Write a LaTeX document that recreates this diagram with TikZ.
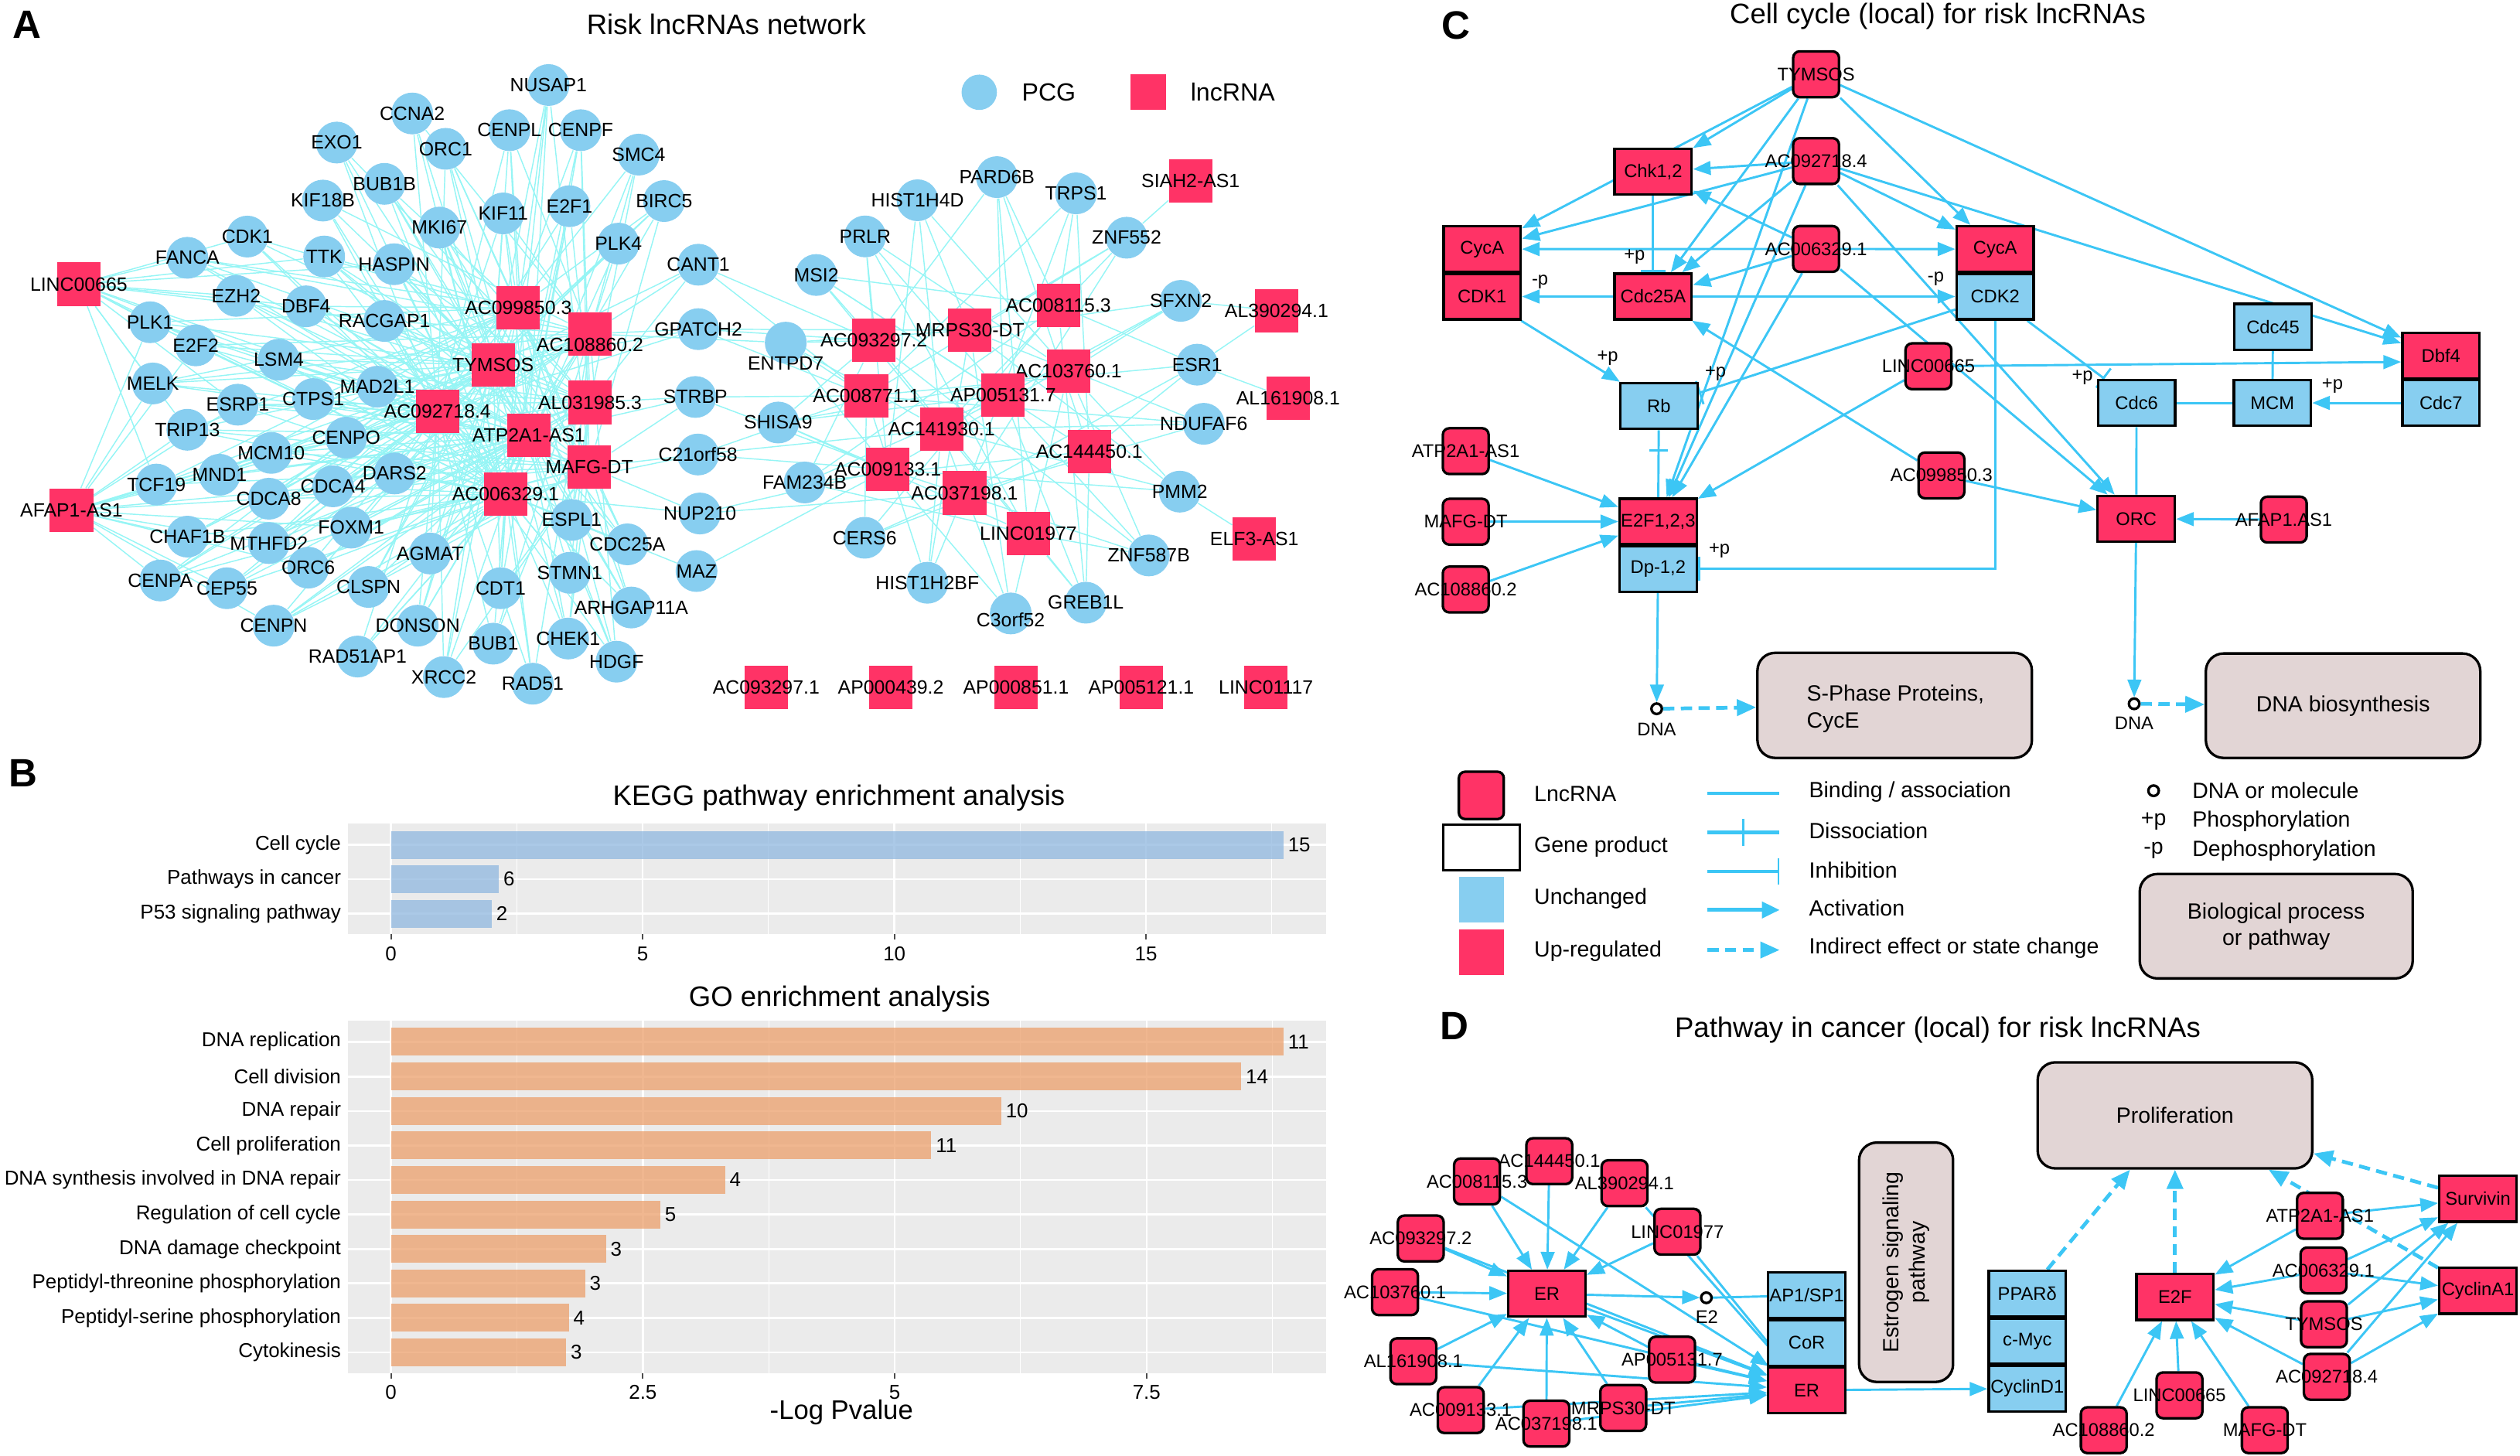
\documentclass[tikz,border=0pt]{standalone}
\usepackage{fontspec}
\setmainfont{Liberation Sans}
\usetikzlibrary{arrows.meta,calc}
\pgfdeclarelayer{bg}
\pgfsetlayers{bg,main}
\definecolor{lncred}{RGB}{255,51,102}
\definecolor{pcgblue}{RGB}{135,206,240}
\definecolor{acol}{RGB}{150,245,245}
\definecolor{ccol}{RGB}{60,198,245}
\definecolor{procfill}{RGB}{226,213,213}
\definecolor{keggbar}{RGB}{143,183,223}
\definecolor{gobar}{RGB}{236,159,108}
\definecolor{panelbg}{RGB}{235,235,235}
\newcommand\fnA{\fontsize{6.8}{7.5}\selectfont}
\newcommand\fnB{\fontsize{7.1}{8}\selectfont}
\newcommand\fnC{\fontsize{6.5}{7}\selectfont}
\newcommand\fnL{\fontsize{7.8}{9.4}\selectfont}
\newcommand\fnT{\fontsize{10}{12}\selectfont}
\newcommand\fnG{\fontsize{8.8}{10}\selectfont}
\newcommand\fnP{\fontsize{14}{16}\selectfont\bfseries}
\tikzset{
  pcg/.style={circle, fill=pcgblue, minimum size=0.52cm, inner sep=0pt},
  pa/.style={pcg, label={[font=\fnA, inner sep=0pt]center:#1}},
  lsq/.style={rectangle, fill=lncred, minimum size=0.54cm, inner sep=0pt},
  la/.style={lsq, label={[font=\fnA, inner sep=0pt]center:#1}},
  ae/.style={draw=acol, line width=0.4pt},
  lc/.style={rectangle, rounded corners=0.08cm, draw=black, line width=0.9pt, fill=lncred, minimum width=0.57cm, minimum height=0.57cm, inner sep=0pt, label={[font=\fnC, inner sep=0pt]center:#1}},
  gbox/.style={rectangle, draw=black, line width=0.9pt, minimum width=0.96cm, minimum height=0.57cm, inner sep=0pt, font=\fnC},
  gr/.style={gbox, fill=lncred},
  gb/.style={gbox, fill=pcgblue},
  proc/.style={rectangle, rounded corners=0.22cm, draw=black, line width=0.9pt, fill=procfill, inner sep=0pt, font=\fnL, align=center},
  dna/.style={circle, draw=black, line width=0.9pt, fill=white, minimum size=0.13cm, inner sep=0pt},
  cl/.style={draw=ccol, line width=0.8pt},
  act/.style={cl, -{Triangle[length=0.22cm, width=0.17cm]}},
  inh/.style={cl, -{Bar[width=0.3cm]}},
  ind/.style={cl, line width=1.3pt, dash pattern=on 0.14cm off 0.08cm, -{Triangle[length=0.24cm, width=0.2cm]}},
  pl/.style={font=\fnC, inner sep=0pt},
  txB/.style={font=\fnB, inner sep=0pt},
  txL/.style={font=\fnL, inner sep=0pt, anchor=west},
}
\begin{document}
\begin{tikzpicture}[x=0.02cm,y=-0.02cm]
\useasboundingbox (0,0) rectangle (1568,905.5);

% ================= PANEL A =================
\node[font=\fnP, inner sep=0pt] (lblA) at (16.9,15.2) {A};
\node[font=\fnT, inner sep=0pt] (titA) at (452,15) {Risk lncRNAs network};
\node[circle, fill=pcgblue, minimum size=0.44cm, inner sep=0pt] (legPCG) at (609.3,57.4) {};
\node[font=\fnG, inner sep=0pt, anchor=west] (legPCGt) at (635.5,57.4) {PCG};
\node[rectangle, fill=lncred, minimum size=0.44cm, inner sep=0pt] (legLNC) at (714.3,57.4) {};
\node[font=\fnG, inner sep=0pt, anchor=west] (legLNCt) at (740.5,57.4) {lncRNA};

% left PCGs
\node[pa=NUSAP1] (NUSAP1) at (341.3,52.9) {};
\node[pa=CCNA2] (CCNA2) at (256.5,70.6) {};
\node[pa=CENPF] (CENPF) at (361.3,81) {};
\node[pa=CENPL] (CENPL) at (317,81) {};
\node[pa=EXO1] (EXO1) at (209.5,88.7) {};
\node[pa=ORC1] (ORC1) at (277.3,92.6) {};
\node[pa=SMC4] (SMC4) at (397.4,96.2) {};
\node[pa=BUB1B] (BUB1B) at (239.2,114.4) {};
\node[pa=KIF18B] (KIF18B) at (200.9,124.8) {};
\node[pa=MKI67] (MKI67) at (273.4,141.6) {};
\node[pa=KIF11] (KIF11) at (313.1,132.8) {};
\node[pa=E2F1] (E2F1) at (354.3,128.3) {};
\node[pa=BIRC5] (BIRC5) at (413.2,125.1) {};
\node[pa=CDK1] (CDK1) at (153.9,147.2) {};
\node[pa=TTK] (TTK) at (201.7,159.6) {};
\node[pa=PLK4] (PLK4) at (384.8,151.6) {};
\node[pa=HASPIN] (HASPIN) at (245.2,164.4) {};
\node[pa=FANCA] (FANCA) at (116.6,160.4) {};
\node[pa=EZH2] (EZH2) at (146.9,184.1) {};
\node[pa=DBF4] (DBF4) at (190.4,190.6) {};
\node[pa=RACGAP1] (RACGAP1) at (239.2,199.7) {};
\node[pa=PLK1] (PLK1) at (93.4,200.5) {};
\node[pa=E2F2] (E2F2) at (121.8,214.9) {};
\node[pa=LSM4] (LSM4) at (173.5,223.8) {};
\node[pa=MELK] (MELK) at (95.1,238.6) {};
\node[pa=ESRP1] (ESRP1) at (147.9,251.8) {};
\node[pa=CTPS1] (CTPS1) at (194.9,248.3) {};
\node[pa=MAD2L1] (MAD2L1) at (234.8,240.6) {};
\node[pa=TRIP13] (TRIP13) at (116.6,267.4) {};
\node[pa=CENPO] (CENPO) at (215.4,272.3) {};
\node[pa=MCM10] (MCM10) at (168.8,281.8) {};
\node[pa=MND1] (MND1) at (136.6,295.4) {};
\node[pa=DARS2] (DARS2) at (245.5,294.6) {};
\node[pa=TCF19] (TCF19) at (97.3,301.5) {};
\node[pa=CDCA4] (CDCA4) at (207.2,302.6) {};
\node[pa=CDCA8] (CDCA8) at (167.3,310.3) {};
\node[pa=CHAF1B] (CHAF1B) at (116.6,333.9) {};
\node[pa=FOXM1] (FOXM1) at (218.5,328.3) {};
\node[pa=MTHFD2] (MTHFD2) at (167.3,337.9) {};
\node[pa=ORC6] (ORC6) at (191.8,353.2) {};
\node[pa=CENPA] (CENPA) at (99.7,361.2) {};
\node[pa=CEP55] (CEP55) at (141.2,366) {};
\node[pa=CLSPN] (CLSPN) at (229.3,365.2) {};
\node[pa=AGMAT] (AGMAT) at (267.6,344.4) {};
\node[pa=CENPN] (CENPN) at (170.3,389.3) {};
\node[pa=DONSON] (DONSON) at (259.9,389.3) {};
\node[pa=RAD51AP1] (RAD51AP1) at (222.5,408.5) {};
\node[pa=XRCC2] (XRCC2) at (276.2,421.3) {};
\node[pa=BUB1] (BUB1) at (306.9,400.5) {};
\node[pa=CDT1] (CDT1) at (311.5,366) {};
\node[pa=RAD51] (RAD51) at (331.5,425.4) {};
\node[pa=CHEK1] (CHEK1) at (353.5,397.3) {};
\node[pa=HDGF] (HDGF) at (383.6,411.7) {};
\node[pa=STMN1] (STMN1) at (354.5,356.4) {};
\node[pa=ARHGAP11A] (ARHGAP11A) at (392.8,378) {};
\node[pa=ESPL1] (ESPL1) at (355.7,323.5) {};
\node[pa=CDC25A] (CDC25A) at (390.4,338.7) {};
% middle PCGs
\node[pa=CANT1] (CANT1) at (434.5,164.7) {};
\node[pa=GPATCH2] (GPATCH2) at (434.5,204.8) {};
\node[pa=STRBP] (STRBP) at (432.7,247) {};
\node[pa=C21orf58] (C21orf58) at (434.3,282.8) {};
\node[pa=NUP210] (NUP210) at (435.5,319.5) {};
\node[pa=MAZ] (MAZ) at (433.4,355.3) {};
\node[pcg, label={[font=\fnA, inner sep=0pt, yshift=-0.26cm]center:ENTPD7}] (ENTPD7) at (488.9,213.2) {};
% right PCGs
\node[pa=PARD6B] (PARD6B) at (620.3,110.2) {};
\node[pa=HIST1H4D] (HIST1H4D) at (570.9,124.6) {};
\node[pa=TRPS1] (TRPS1) at (669.5,120.3) {};
\node[pa=PRLR] (PRLR) at (538.3,147.1) {};
\node[pa=ZNF552] (ZNF552) at (701,147.9) {};
\node[pa=MSI2] (MSI2) at (507.9,171.1) {};
\node[pa=SFXN2] (SFXN2) at (734.7,187.2) {};
\node[pa=ESR1] (ESR1) at (744.9,226.9) {};
\node[pa=SHISA9] (SHISA9) at (484.2,262.9) {};
\node[pa=NDUFAF6] (NDUFAF6) at (749,263.7) {};
\node[pa=FAM234B] (FAM234B) at (500.7,300.2) {};
\node[pa=PMM2] (PMM2) at (734.1,305.9) {};
\node[pa=CERS6] (CERS6) at (538,334.6) {};
\node[pa=ZNF587B] (ZNF587B) at (714.8,345.6) {};
\node[pa=HIST1H2BF] (HIST1H2BF) at (577,362.6) {};
\node[pa=GREB1L] (GREB1L) at (675.6,375) {};
\node[pcg, label={[font=\fnA, inner sep=0pt, yshift=-0.08cm]center:C3orf52}] (C3orf52) at (628.9,381.7) {};
% left lncRNAs
\node[la=LINC00665] (L665) at (49,176.8) {};
\node[la=AC099850.3] (H850) at (322.5,191.5) {};
\node[lsq, label={[font=\fnA, inner sep=0pt, yshift=-0.14cm]center:AC108860.2}] (H860) at (367.1,207.7) {};
\node[la=TYMSOS] (TYM) at (306.8,227) {};
\node[la=AC092718.4] (H718) at (272.2,255.8) {};
\node[la=AL031985.3] (H985) at (367.1,250.4) {};
\node[la=ATP2A1-AS1] (ATP) at (329,270.7) {};
\node[la=MAFG-DT] (MAF) at (366.7,290.6) {};
\node[la=AC006329.1] (H329) at (314.6,307.3) {};
\node[la=AFAP1-AS1] (AFA) at (44.5,317.6) {};
% right lncRNAs
\node[la=SIAH2-AS1] (SIA) at (740.8,112.4) {};
\node[la=AL390294.1] (R294) at (794.3,193.3) {};
\node[la=AC008115.3] (R115) at (658.5,190.2) {};
\node[la=MRPS30-DT] (MRP) at (603.5,205.5) {};
\node[la=AC093297.2] (R2972) at (543.8,211.9) {};
\node[la=AC103760.1] (R760) at (664.8,231.1) {};
\node[la=AL161908.1] (R908) at (801.5,247.9) {};
\node[la=AC008771.1] (R771) at (539.1,246.3) {};
\node[la=AP005131.7] (R1317) at (624.2,246) {};
\node[la=AC141930.1] (R930) at (585.8,267.2) {};
\node[la=AC144450.1] (R450) at (677.8,280.8) {};
\node[la=AC009133.1] (R133) at (552.4,292.1) {};
\node[la=AC037198.1] (R198) at (600.2,306.7) {};
\node[la=LINC01977] (R977) at (639.9,332) {};
\node[la=ELF3-AS1] (ELF) at (780.5,335.4) {};
% isolated lncRNAs
\node[la=AC093297.1] (I1) at (476.7,427.9) {};
\node[la=AP000439.2] (I2) at (554.3,427.9) {};
\node[la=AP000851.1] (I3) at (632.2,427.9) {};
\node[la=AP005121.1] (I4) at (710.1,427.9) {};
\node[la=LINC01117] (I5) at (787.7,427.9) {};

\begin{pgfonlayer}{bg}
\foreach \nm [count=\i] in {NUSAP1,CCNA2,CENPF,CENPL,EXO1,ORC1,SMC4,BUB1B,KIF18B,MKI67,KIF11,E2F1,BIRC5,CDK1,TTK,PLK4,HASPIN,FANCA,EZH2,DBF4,RACGAP1,PLK1,E2F2,LSM4,MELK,ESRP1,CTPS1,MAD2L1,TRIP13,CENPO,MCM10,MND1,DARS2,TCF19,CDCA4,CDCA8,CHAF1B,FOXM1,MTHFD2,ORC6,CENPA,CEP55,CLSPN,AGMAT,CENPN,DONSON,RAD51AP1,XRCC2,BUB1,CDT1,RAD51,CHEK1,HDGF,STMN1,ARHGAP11A,ESPL1,CDC25A} {
  \foreach \hb [count=\j] in {TYM,H718,H329,ATP,H850,H860,H985,MAF} {
    \pgfmathtruncatemacro\myr{mod(\i*3+\j*5,7)}
    \pgfmathtruncatemacro\mylim{\j<5 ? 5 : 3}
    \ifnum\myr<\mylim\relax \draw[ae] (\nm) -- (\hb); \fi
  }
}
\foreach \nm [count=\i] in {PARD6B,HIST1H4D,TRPS1,PRLR,ZNF552,MSI2,SFXN2,ESR1,SHISA9,NDUFAF6,FAM234B,PMM2,CERS6,ZNF587B,HIST1H2BF,GREB1L,C3orf52} {
  \foreach \hb [count=\j] in {R2972,MRP,R115,R760,R771,R1317,R930,R450,R133,R198,R977} {
    \pgfmathtruncatemacro\myr{mod(\i*2+\j*3,5)}
    \ifnum\myr<2\relax \draw[ae] (\nm) -- (\hb); \fi
  }
}
\foreach \t in {FANCA,CDK1,TTK,EZH2,DBF4,PLK1,E2F2,MELK,TRIP13,LSM4,HASPIN,ESRP1,CTPS1,RACGAP1,MAD2L1,TCF19} \draw[ae] (L665) -- (\t);
\foreach \t in {MELK,TCF19,MND1,CDCA8,CHAF1B,MTHFD2,CENPA,CEP55,CENPN,TRIP13,CDCA4,ORC6,E2F2,PLK1,MCM10,CENPO,FOXM1,ESRP1} \draw[ae] (AFA) -- (\t);
\foreach \t in {H860,H985,TYM,R2972,R771} \draw[ae] (CANT1) -- (\t);
\foreach \t in {H860,TYM,H718,R771,R2972,MRP} \draw[ae] (GPATCH2) -- (\t);
\foreach \t in {R2972,R771,MRP,R133,R930,H860} \draw[ae] (ENTPD7) -- (\t);
\foreach \t in {H985,MAF,ATP,R771,R133} \draw[ae] (STRBP) -- (\t);
\foreach \t in {MAF,H329,R133,R930,R771} \draw[ae] (C21orf58) -- (\t);
\foreach \t in {H329,MAF,R133,R198} \draw[ae] (NUP210) -- (\t);
\foreach \t in {H329,R133} \draw[ae] (MAZ) -- (\t);
\draw[ae] (SIA) -- (ZNF552);
\draw[ae] (R294) -- (ESR1);
\draw[ae] (R294) -- (SFXN2);
\draw[ae] (R908) -- (ESR1);
\draw[ae] (ELF) -- (PMM2);
\end{pgfonlayer}

% ================= PANEL B =================
\node[font=\fnP, inner sep=0pt] (lblB) at (14.6,481) {B};
\node[font=\fnT, inner sep=0pt] (titK) at (522,496.5) {KEGG pathway enrichment analysis};
\fill[panelbg] (216.5,512.5) rectangle (825,581);
\foreach \x in {321.6,478.2,634.8,791.4} \draw[white,line width=0.3pt] (\x,512.5) -- (\x,581);
\foreach \x in {243.3,399.9,556.5,713.1} \draw[white,line width=0.7pt] (\x,512.5) -- (\x,581);
\foreach \y in {525.7,547,568.5} \draw[white,line width=0.7pt] (216.5,\y) -- (825,\y);
\foreach \y/\e/\c/\t [count=\i] in {525.7/798.6/15/Cell cycle,547/310.4/6/Pathways in cancer,568.5/306/2/P53 signaling pathway} {
  \fill[keggbar, fill opacity=0.75] (243.3,\y-8.65) rectangle (\e,\y+8.65);
  \node[txB, anchor=west] (kv\i) at (\e+2.5,\y) {\c};
  \node[txB, anchor=east] (kc\i) at (212.5,\y) {\t};
}
\foreach \x/\t [count=\i] in {243.3/0,399.9/5,556.5/10,713.1/15} {
  \draw[gray!60!black,line width=0.5pt] (\x,581) -- (\x,584.5);
  \node[txB] (kt\i) at (\x,593.5) {\t};
}
\node[font=\fnT, inner sep=0pt] (titG) at (522.4,621.6) {GO enrichment analysis};
\fill[panelbg] (216.5,635.2) rectangle (825,854.5);
\foreach \x in {321.7,478.3,635,791.8} \draw[white,line width=0.3pt] (\x,635.2) -- (\x,854.5);
\foreach \x in {243.3,400,556.7,713.4} \draw[white,line width=0.7pt] (\x,635.2) -- (\x,854.5);
\foreach \y in {648.2,669.9,691.4,712.7,734.2,755.7,777.2,798.5,820,841.5} \draw[white,line width=0.7pt] (216.5,\y) -- (825,\y);
\foreach \y/\e/\c/\t [count=\i] in {648.2/798.6/11/DNA replication,669.9/772.3/14/Cell division,691.4/623/10/DNA repair,712.7/579.5/11/Cell proliferation,734.2/451.1/4/DNA synthesis involved in DNA repair,755.7/410.8/5/Regulation of cell cycle,777.2/377/3/DNA damage checkpoint,798.5/364.1/3/Peptidyl-threonine phosphorylation,820/353.9/4/Peptidyl-serine phosphorylation,841.5/352.3/3/Cytokinesis} {
  \fill[gobar, fill opacity=0.75] (243.3,\y-8.65) rectangle (\e,\y+8.65);
  \node[txB, anchor=west] (gv\i) at (\e+2.5,\y) {\c};
  \node[txB, anchor=east] (gc\i) at (212.5,\y) {\t};
}
\foreach \x/\t [count=\i] in {243.3/0,400/2.5,556.7/5,713.4/7.5} {
  \draw[gray!60!black,line width=0.5pt] (\x,854.5) -- (\x,858);
  \node[txB] (gt\i) at (\x,866.5) {\t};
}
\node[font=\fontsize{9.5}{11}\selectfont, inner sep=0pt] (xlab) at (523.6,879) {-Log Pvalue};

% ================= PANEL C =================
\node[font=\fnP, inner sep=0pt] (lblC) at (905.7,15.9) {C};
\node[font=\fnT, inner sep=0pt] (titC) at (1205.7,10) {Cell cycle (local) for risk lncRNAs};
\node[lc=TYMSOS] (cTYM) at (1130,46.2) {};
\node[lc=AC092718.4] (cH718) at (1130,100.2) {};
\node[lc=AC006329.1] (cH329) at (1130,154.9) {};
\node[lc=LINC00665] (cL665) at (1199.9,227.9) {};
\node[lc=AC099850.3] (cH850) at (1208,295.8) {};
\node[lc=ATP2A1-AS1] (cATP) at (912,280.7) {};
\node[lc=MAFG-DT] (cMAF) at (912,324.6) {};
\node[lc=AC108860.2] (cH860) at (912,366.8) {};
\node[lc=AFAP1.AS1] (cAFA) at (1421,323.3) {};
\node[gr] (cCycAL) at (922.2,155) {CycA};
\node[gr] (cCDK1) at (922.2,184.5) {CDK1};
\node[gr] (cChk) at (1028.6,106.9) {Chk1,2};
\node[gr] (cCdc25A) at (1028.6,184.5) {Cdc25A};
\node[gr] (cCycAR) at (1241.4,155) {CycA};
\node[gb] (cCDK2) at (1241.4,184.5) {CDK2};
\node[gb] (cRb) at (1032.2,252.6) {Rb};
\node[gb] (cCdc45) at (1414.3,203.3) {Cdc45};
\node[gr] (cDbf4) at (1518.8,221.2) {Dbf4};
\node[gb] (cCdc7) at (1518.8,250.7) {Cdc7};
\node[gb] (cCdc6) at (1329.4,250.7) {Cdc6};
\node[gb] (cMCM) at (1413.9,250.7) {MCM};
\node[gr] (cE2F) at (1031.7,324.5) {E2F1,2,3};
\node[gb] (cDp) at (1031.7,354) {Dp-1,2};
\node[gr] (cORC) at (1329.2,322.8) {ORC};
\node[dna] (cDNA1) at (1030.8,441) {};
\node[pl] (cDNA1t) at (1030.8,454) {DNA};
\node[dna] (cDNA2) at (1327.9,437.9) {};
\node[pl] (cDNA2t) at (1327.9,450) {DNA};
\node[proc, minimum width=3.416cm, minimum height=1.308cm] (cSph) at (1178.9,438.9) {};
\node[font=\fnL, inner sep=0pt, align=left, anchor=west] (cSphT) at (1123.8,441) {S-Phase Proteins,\\CycE};
\node[proc, minimum width=3.416cm, minimum height=1.3cm] (cDNAb) at (1457.9,439.1) {DNA biosynthesis};
\node[pl] (cp1) at (1017,159.8) {+p};
\node[pl] (cp2) at (958.2,175.3) {-p};
\node[pl] (cp3) at (1204.5,173.6) {-p};
\node[pl] (cp4) at (1000.3,222.8) {+p};
\node[pl] (cp5) at (1067.4,232.3) {+p};
\node[pl] (cp6) at (1295.7,234.9) {+p};
\node[pl] (cp7) at (1451.3,240.1) {+p};
\node[pl] (cp8) at (1069.8,342.5) {+p};

\begin{pgfonlayer}{bg}
\foreach \t in {cCycAL,cChk,cCdc25A,cE2F,cCycAR,cDbf4} \draw[act] (cTYM) -- (\t);
\foreach \t in {cChk,cCycAL,cCdc25A,cE2F,cCycAR,cDbf4,cORC} \draw[act] (cH718) -- (\t);
\foreach \t in {cChk,cCycAL,cCycAR,cCdc25A,cE2F,cORC} \draw[act] (cH329) -- (\t);
\draw[inh] (cChk) -- (cCdc25A);
\draw[act] (cCdc25A) -- (cCDK1);
\draw[act] (cCdc25A) -- (cCDK2);
\draw[act] (cCDK1) -- (cRb);
\draw[inh] (cCDK2) -- (cRb);
\draw[inh] (cCDK2) -- (cCdc6);
\draw[inh] (cCDK2.south) |- (cDp.east);
\draw[cl] (cRb) -- (cE2F) coordinate[pos=0.3] (cTk);
\draw[cl] ([xshift=-0.12cm]cTk) -- ([xshift=0.12cm]cTk);
\draw[act] (cL665) -- (cE2F);
\draw[act] (cL665) -- ([yshift=-0.08cm]cDbf4.west);
\draw[act] (cH850) -- (cCdc25A);
\draw[act] (cH850) -- (cORC);
\draw[act] (cAFA) -- (cORC);
\draw[cl] (cCdc6) -- (cORC);
\draw[cl] (cCdc6) -- (cMCM);
\draw[cl] (cMCM) -- (cCdc45);
\draw[act] (cCdc7) -- (cMCM);
\foreach \s in {cATP,cMAF,cH860} \draw[act] (\s) -- (cE2F);
\draw[act] (cDp) -- (cDNA1);
\draw[ind] (cDNA1) -- (cSph);
\draw[act] (cORC) -- (cDNA2);
\draw[ind] (cDNA2) -- (cDNAb);
\end{pgfonlayer}

% legend C
\node[rectangle, rounded corners=0.08cm, draw=black, line width=0.9pt, fill=lncred, minimum width=0.56cm, minimum height=0.59cm, inner sep=0pt] (lgL) at (921.7,494.9) {};
\node[txL] (lgLt) at (954.3,493.8) {LncRNA};
\node[rectangle, draw=black, line width=0.9pt, fill=white, minimum width=0.95cm, minimum height=0.57cm, inner sep=0pt] (lgG) at (921.8,527.4) {};
\node[txL] (lgGt) at (954.3,527) {Gene product};
\node[rectangle, fill=pcgblue, minimum width=0.56cm, minimum height=0.57cm, inner sep=0pt] (lgU) at (921.7,559.7) {};
\node[txL] (lgUt) at (954.3,559) {Unchanged};
\node[rectangle, fill=lncred, minimum width=0.56cm, minimum height=0.57cm, inner sep=0pt] (lgR) at (921.7,592.4) {};
\node[txL] (lgRt) at (954.3,591.6) {Up-regulated};
\coordinate (lb1) at (1062.3,493.6); \coordinate (lb2) at (1107.3,493.6);
\draw[cl, line width=1.3pt] (lb1) -- (lb2);
\node[txL] (lbt) at (1125.3,492.5) {Binding / association};
\coordinate (ld1) at (1062.3,517.8); \coordinate (ld2) at (1107.3,517.8); \coordinate (ldm) at (1084.8,517.8);
\draw[cl, line width=1.3pt] (ld1) -- (ld2);
\draw[cl, line width=0.8pt] ([yshift=0.17cm]ldm) -- ([yshift=-0.17cm]ldm);
\node[txL] (ldt) at (1125.3,516.8) {Dissociation};
\coordinate (li1) at (1062.3,542.2); \coordinate (li2) at (1107.3,542.2);
\draw[cl, line width=1.3pt, -{Bar[width=0.33cm, line width=0.8pt]}] (li1) -- (li2);
\node[txL] (lit) at (1125.3,541.2) {Inhibition};
\coordinate (la1) at (1062.3,566.2); \coordinate (la2) at (1107.3,566.2);
\draw[cl, line width=1.3pt, -{Triangle[length=0.22cm, width=0.2cm]}] (la1) -- (la2);
\node[txL] (lat) at (1125.3,565.2) {Activation};
\coordinate (lx1) at (1062.3,591.1); \coordinate (lx2) at (1107.3,591.1);
\draw[ind] (lx1) -- (lx2);
\node[txL] (lxt) at (1125.3,590.1) {Indirect effect or state change};
\node[dna] (lgO) at (1340,492) {};
\node[txL] (lgOt) at (1363.8,492) {DNA or molecule};
\node[font=\fnL, inner sep=0pt] (lgP) at (1340,510.9) {+p};
\node[txL] (lgPt) at (1363.8,510.9) {Phosphorylation};
\node[font=\fnL, inner sep=0pt] (lgM) at (1340,529.3) {-p};
\node[txL] (lgMt) at (1363.8,529.3) {Dephosphorylation};
\node[proc, minimum width=3.398cm, minimum height=1.3cm] (lgB) at (1416.3,576.3) {Biological process\\or pathway};

% ================= PANEL D =================
\node[font=\fnP, inner sep=0pt] (lblD) at (905,638.6) {D};
\node[font=\fnT, inner sep=0pt] (titD) at (1205.7,641) {Pathway in cancer (local) for risk lncRNAs};
\node[gr] (dER) at (962.5,805) {ER};
\node[lc=AC144450.1] (dR450) at (964,722.5) {};
\node[lc=AC008115.3] (dR115) at (919,735.1) {};
\node[lc=AL390294.1] (dR294) at (1010.8,736.2) {};
\node[lc=LINC01977] (dR977) at (1043.7,766.4) {};
\node[lc=AC093297.2] (dR2972) at (884,770.6) {};
\node[lc=AC103760.1] (dR760) at (868,804) {};
\node[lc=AL161908.1] (dR908) at (879.4,847) {};
\node[lc=AC009133.1] (dR133) at (908.9,877.4) {};
\node[lc=AC037198.1] (dR198) at (962.2,885.8) {};
\node[lc=MRPS30-DT] (dMRP) at (1010,876.1) {};
\node[lc=AP005131.7] (dR1317) at (1040.4,846) {};
\node[dna] (dE2) at (1061.7,807.5) {};
\node[pl] (dE2t) at (1062,819.5) {E2};
\node[gb] (dAP1) at (1124.2,806) {AP1/SP1};
\node[gb] (dCoR) at (1124.2,835.5) {CoR};
\node[gr] (dER2) at (1124.2,865) {ER};
\node[proc, minimum width=1.17cm, minimum height=2.98cm] (dEst) at (1186,785.4) {};
\node[font=\fnL, inner sep=0pt, align=center, rotate=90] (dEstT) at (1186,785.4) {Estrogen signaling\\pathway};
\node[gb] (dPPAR) at (1261.4,805) {PPARδ};
\node[gb] (dMyc) at (1261.4,834.5) {c-Myc};
\node[gb] (dCyc) at (1261.4,864) {CyclinD1};
\node[proc, minimum width=3.418cm, minimum height=1.32cm] (dProl) at (1353.3,694) {Proliferation};
\node[gr] (dE2F) at (1353.3,807) {E2F};
\node[lc=ATP2A1-AS1] (dATP) at (1443.5,756.5) {};
\node[lc=AC006329.1] (dH329) at (1445.7,790.5) {};
\node[lc=TYMSOS] (dTYM) at (1446,824) {};
\node[lc=AC092718.4] (dH718) at (1447.8,856.7) {};
\node[gr] (dSurv) at (1541.8,745.9) {Survivin};
\node[gr] (dCycA1) at (1541.8,803.2) {CyclinA1};
\node[lc=LINC00665] (dL665) at (1356.1,868.2) {};
\node[lc=AC108860.2] (dH860) at (1309,889.9) {};
\node[lc=MAFG-DT] (dMAF) at (1409.2,889.9) {};

\begin{pgfonlayer}{bg}
\foreach \s in {dR450,dR115,dR294,dR977,dR2972,dR760,dR908,dR133,dR198,dMRP,dR1317} \draw[act] (\s) -- (dER);
\foreach \s in {dR115,dR294,dR977,dR2972,dR760,dR908,dR133,dR198,dMRP,dR1317,dER} \draw[act] (\s) -- (dER2);
\draw[act] (dER) -- (dE2);
\draw[cl] (dE2) -- (dAP1);
\draw[act] (dER2) -- (dCyc);
\foreach \s in {dPPAR,dE2F,dCycA1,dSurv} \draw[ind] (\s) -- (dProl);
\foreach \s in {dATP,dH329,dTYM,dH718,dL665,dH860,dMAF} \draw[act] (\s) -- (dE2F);
\foreach \s in {dATP,dH329,dTYM,dH718} \draw[act] (\s) -- (dSurv);
\foreach \s in {dH329,dTYM,dH718} \draw[act] (\s) -- (dCycA1);
\end{pgfonlayer}

\end{tikzpicture}
\end{document}
